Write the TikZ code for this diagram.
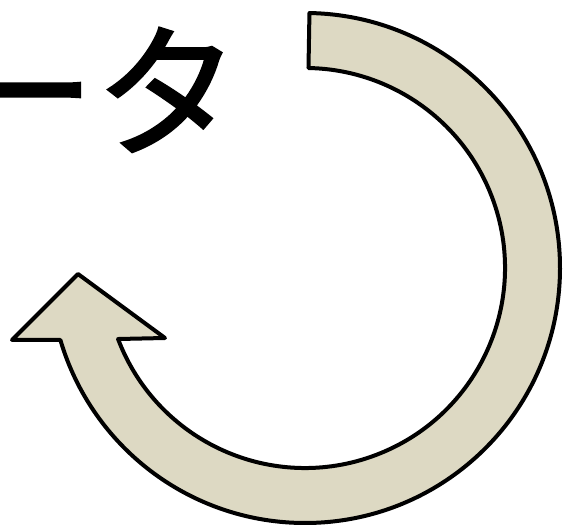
\documentclass[tikz,border=0pt]{standalone}
\usepackage{fontspec}
\newfontfamily\cjk[FakeBold=1.6]{Noto Sans CJK JP}
\definecolor{bandfill}{HTML}{DDD9C3}
\begin{document}
\begin{tikzpicture}[x=1pt,y=1pt,
  band/.style={fill=bandfill,draw=black,line width=4pt,line join=round},
  titlelabel/.style={inner sep=0pt,font=\cjk\fontsize{145}{147}\selectfont}]
\useasboundingbox (0,0) rectangle (563,531);
\node[titlelabel,anchor=base east] (title) at (240,385.3) {ータ};
\coordinate (c) at (305,263);
\draw[band] ([shift={(c)}]89:255) arc[start angle=89,end angle=-163.6,radius=255]
  -- (12,191) -- (78,257) -- (165,193) -- ([shift={(c)}]-159.2:200)
  arc[start angle=-159.2,end angle=89,radius=200] -- cycle;
\end{tikzpicture}
\end{document}
